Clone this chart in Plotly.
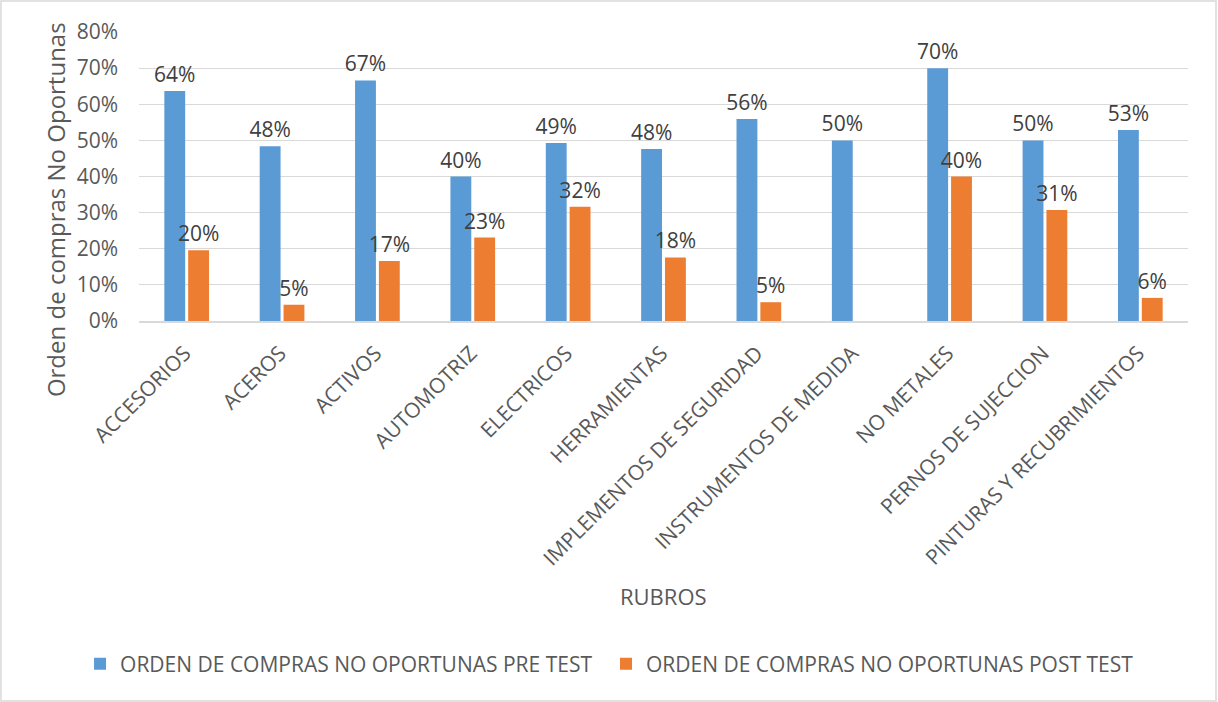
import plotly.graph_objects as go

rubros = ['ACCESORIOS', 'ACEROS', 'ACTIVOS', 'AUTOMOTRIZ', 'ELECTRICOS', 'HERRAMIENTAS',
          'IMPLEMENTOS DE SEGURIDAD', 'INSTRUMENTOS DE MEDIDA', 'NO METALES',
          'PERNOS DE SUJECCION', 'PINTURAS Y RECUBRIMIENTOS']
pre_test = [0.637, 0.484, 0.666, 0.40, 0.493, 0.476, 0.559, 0.50, 0.70, 0.50, 0.529]
post_test = [0.196, 0.045, 0.166, 0.231, 0.316, 0.176, 0.052, None, 0.40, 0.307, 0.064]
y_ticks = [0, 0.1, 0.2, 0.3, 0.4, 0.5, 0.6, 0.7, 0.8]

FONT = 'Open Sans'
GREY = '#595959'


def chart():
    fig = go.Figure()
    series = [
        ('ORDEN DE COMPRAS NO OPORTUNAS PRE TEST', pre_test, '#5B9BD5', 'legend'),
        ('ORDEN DE COMPRAS NO OPORTUNAS POST TEST', post_test, '#ED7D31', 'legend2'),
    ]
    for name, vals, color, leg in series:
        fig.add_trace(go.Bar(
            x=rubros,
            y=vals,
            name=name,
            legend=leg,
            marker=dict(color=color, line=dict(width=0)),
            texttemplate='%{y:.0%}',
            textposition='outside',
            textfont=dict(family=FONT, size=21, color='#404040'),
            constraintext='none',
            cliponaxis=False,
        ))

    leg_style = dict(orientation='h', yanchor='middle', y=-1.187, xanchor='left',
                     font=dict(size=21, color=GREY), bgcolor='rgba(0,0,0,0)')

    fig.update_layout(
        width=1218,
        height=702,
        barmode='group',
        bargap=0.5,
        bargroupgap=0.125,
        plot_bgcolor='white',
        paper_bgcolor='white',
        font=dict(family=FONT, color=GREY),
        margin=dict(l=139, r=30, t=32, b=381),
        showlegend=True,
        legend=dict(x=-0.0562, **leg_style),
        legend2=dict(x=0.4452, **leg_style),
        xaxis=dict(
            tickangle=-45,
            tickfont=dict(size=21, color=GREY),
            showline=True, linecolor='#d9d9d9', linewidth=1.5,
            ticks='',
            ticklabelshift=-2,
            ticklabelstandoff=10,
        ),
        yaxis=dict(
            range=[0, 0.8],
            tickvals=y_ticks,
            tickformat='.0%',
            tickfont=dict(size=21, color=GREY),
            showgrid=True, gridcolor='#d9d9d9', gridwidth=1.3,
            zeroline=False,
            ticks='',
            ticklabelstandoff=20,
        ),
        annotations=[
            dict(text='Orden de compras No Oportunas', xref='paper', yref='paper',
                 x=-0.080, y=0.384, xanchor='center', yanchor='middle',
                 textangle=-90, showarrow=False,
                 font=dict(size=24, color=GREY)),
            dict(text='RUBROS', xref='paper', yref='paper', x=0.5, y=-0.9516,
                 xanchor='center', yanchor='middle',
                 showarrow=False, font=dict(size=22, color=GREY)),
        ],
        shapes=[
            dict(type='rect', xref='paper', yref='paper',
                 x0=-0.1316, x1=1.0267, y0=-1.315, y1=1.107,
                 line=dict(color='#d9d9d9', width=1.5), fillcolor='rgba(0,0,0,0)'),
        ],
    )

    # page body has an 8px default margin; drop it so the figure sits at 0,0
    fig.write_html('out.html', config={'displayModeBar': False},
                   post_script="document.body.style.margin='0';")


if __name__ == '__main__':
    chart()
